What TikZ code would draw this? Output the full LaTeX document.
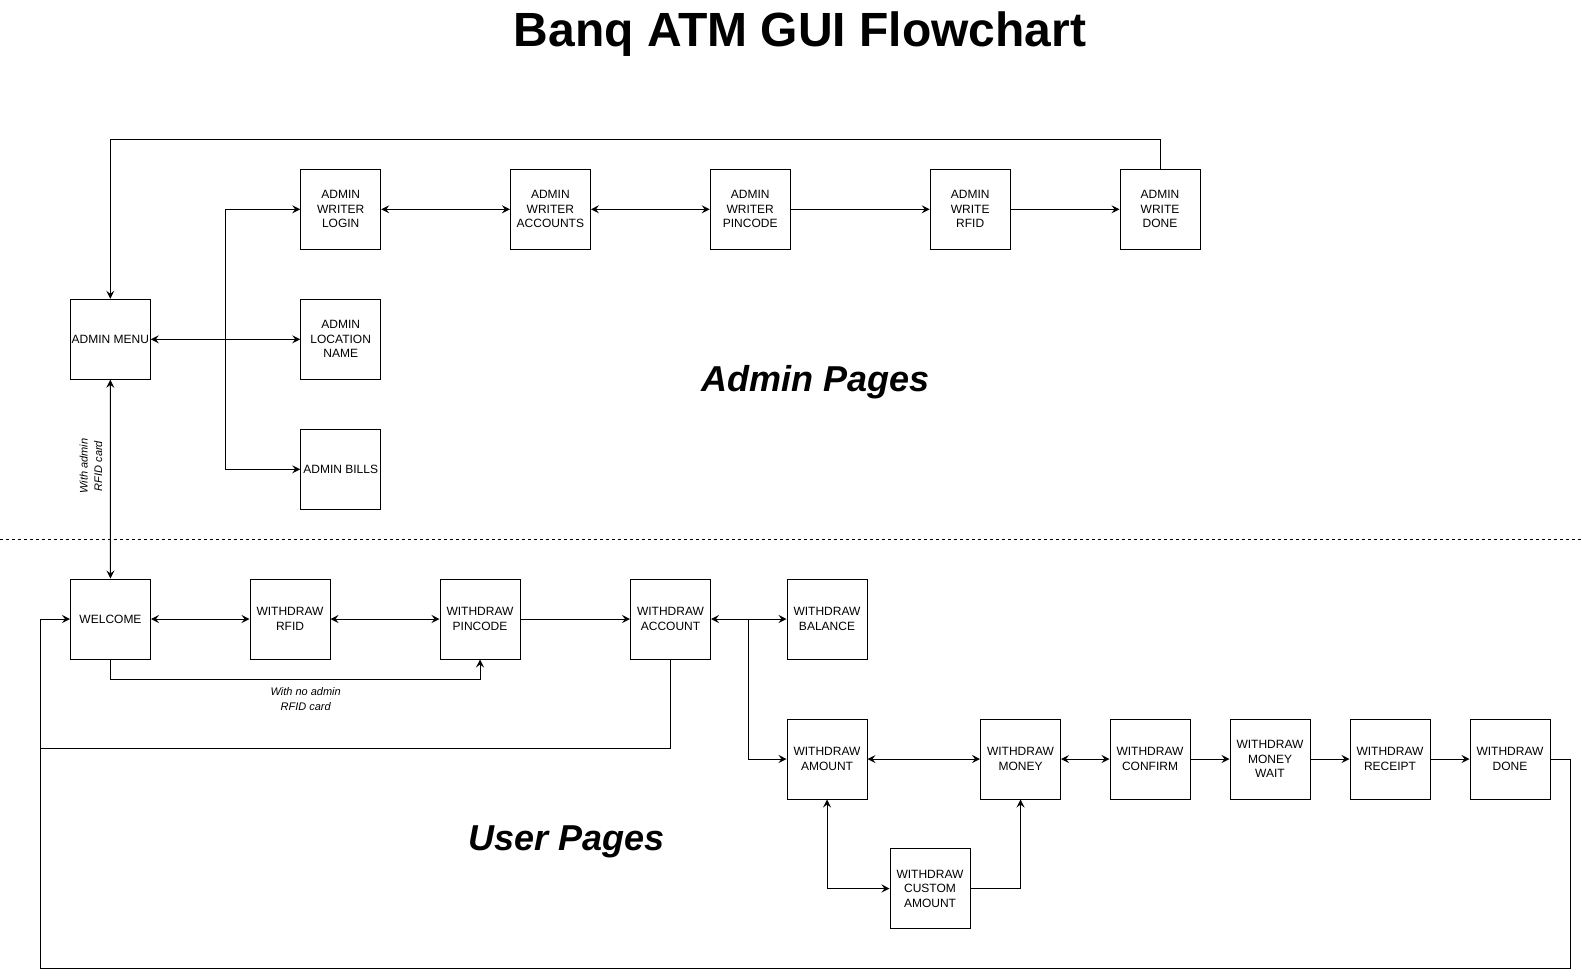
\documentclass[tikz,border=0pt]{standalone}
\usepackage{fontspec}
\setmainfont{Liberation Sans}
\usetikzlibrary{arrows.meta}
\begin{document}
\begin{tikzpicture}[x=1pt,y=-1pt,
  box/.style={draw=black,line width=1pt,minimum width=80pt,minimum height=80pt,align=center,inner sep=1pt,
    font=\fontsize{12}{14.5}\selectfont},
  conn/.style={line width=1pt,draw=black},
  tip/.tip={Stealth[length=8pt,width=8pt,inset=3pt]},
  lbl/.style={font=\fontsize{11}{14.5}\selectfont\itshape,align=center,inner sep=0pt},
  big/.style={font=\fontsize{36}{40}\selectfont\bfseries\itshape,anchor=base,inner sep=0pt}]
\useasboundingbox (0,0) rectangle (1582,978);
% title
\node[font=\fontsize{48}{56}\selectfont\bfseries,anchor=base,inner sep=0pt] (title) at (800,46) {Banq ATM GUI Flowchart};
\node[big] (adminpages) at (816,391) {Admin Pages};
\node[big] (userpages) at (567,850) {User Pages};
% separator
\coordinate (sepL) at (0,539);
\coordinate (sepR) at (1582,539);
\draw[line width=0.8pt,dash pattern=on 3pt off 3pt] (sepL) -- (sepR);
% admin nodes
\node[box] (amenu) at (110.3,339.3) {ADMIN MENU};
\node[box] (alogin) at (340.7,209.3) {ADMIN\\WRITER\\LOGIN};
\node[box] (aloc) at (340.7,339.3) {ADMIN\\LOCATION\\NAME};
\node[box] (abills) at (340.7,469.3) {ADMIN BILLS};
\node[box] (aacc) at (550.4,209.3) {ADMIN\\WRITER\\ACCOUNTS};
\node[box] (apin) at (750.2,209.3) {ADMIN\\WRITER\\PINCODE};
\node[box] (arfid) at (970.2,209.3) {ADMIN\\WRITE\\RFID};
\node[box] (adone) at (1160,209.3) {ADMIN\\WRITE\\DONE};
% user nodes
\node[box] (welcome) at (110.5,619) {WELCOME};
\node[box] (wrfid) at (290,619) {WITHDRAW\\RFID};
\node[box] (wpin) at (480,619) {WITHDRAW\\PINCODE};
\node[box] (wacc) at (670.5,619) {WITHDRAW\\ACCOUNT};
\node[box] (wbal) at (827,619) {WITHDRAW\\BALANCE};
\node[box] (wamount) at (827,759) {WITHDRAW\\AMOUNT};
\node[box] (wmoney) at (1020.5,759) {WITHDRAW\\MONEY};
\node[box] (wconfirm) at (1150,759) {WITHDRAW\\CONFIRM};
\node[box] (wwait) at (1270,759) {WITHDRAW\\MONEY\\WAIT};
\node[box] (wreceipt) at (1390,759) {WITHDRAW\\RECEIPT};
\node[box] (wdone) at (1510,759) {WITHDRAW\\DONE};
\node[box] (wcustom) at (930,888.5) {WITHDRAW\\CUSTOM\\AMOUNT};
% admin connectors
\coordinate (toploop) at (110.3,139.3);
\draw[conn,-tip] (adone.north) |- (toploop) -- (amenu.north);
\coordinate (abr) at (225.3,339.3);
\draw[conn,tip-tip] (amenu) -- (aloc);
\draw[conn,-tip] (abr) |- (alogin.west);
\draw[conn,-tip] (abr) |- (abills.west);
\draw[conn,tip-tip] (alogin) -- (aacc);
\draw[conn,tip-tip] (aacc) -- (apin);
\draw[conn,-tip] (apin) -- (arfid);
\draw[conn,-tip] (arfid) -- (adone);
% admin <-> welcome
\draw[conn,tip-tip] (amenu) -- (welcome);
\node[lbl,rotate=90] (lbladmin) at (91,466) {With admin\\RFID card};
% user connectors
\draw[conn,tip-tip] (welcome) -- (wrfid);
\draw[conn,tip-tip] (wrfid) -- (wpin);
\draw[conn,-tip] (wpin) -- (wacc);
\coordinate (noadm) at (110.5,679);
\draw[conn,-tip] (welcome.south) -- (noadm) -| (wpin.south);
\node[lbl] (lblnoadmin) at (305.7,699) {With no admin\\RFID card};
\draw[conn,tip-tip] (wacc) -- (wbal);
\coordinate (ubr) at (748.7,619);
\draw[conn,-tip] (ubr) |- (wamount.west);
\coordinate (accdown) at (670.5,748.7);
\coordinate (loopL) at (40.4,748.7);
\draw[conn] (wacc.south) -- (accdown) -- (loopL);
\draw[conn,tip-tip] (wamount) -- (wmoney);
\draw[conn,tip-tip] (wmoney) -- (wconfirm);
\draw[conn,-tip] (wconfirm) -- (wwait);
\draw[conn,-tip] (wwait) -- (wreceipt);
\draw[conn,-tip] (wreceipt) -- (wdone);
\draw[conn,tip-tip] (wamount.south) |- (wcustom.west);
\draw[conn,-tip] (wcustom.east) -| (wmoney.south);
\coordinate (doneR) at (1570,759);
\coordinate (botR) at (1570,968.6);
\coordinate (botL) at (40.4,968.6);
\draw[conn,-tip] (wdone.east) -- (doneR) -- (botR) -- (botL) |- (welcome.west);
\end{tikzpicture}
\end{document}
